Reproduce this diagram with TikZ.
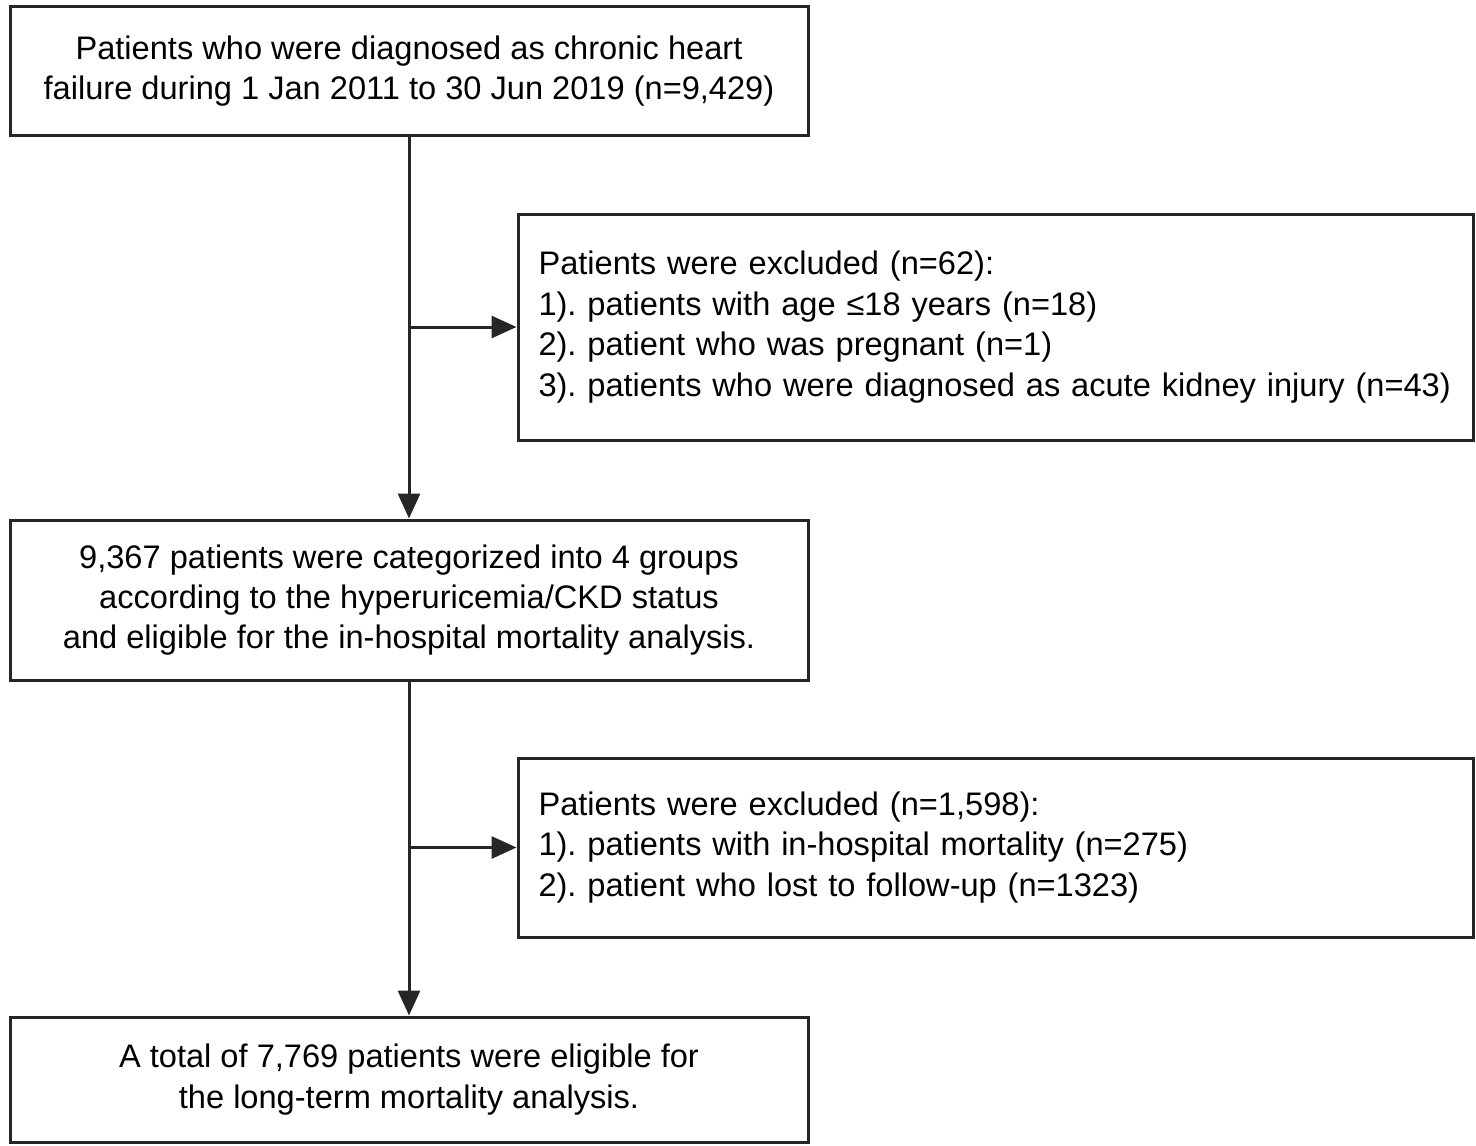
\documentclass[tikz,border=0pt]{standalone}
\usepackage{fontspec}
\setmainfont{Liberation Sans}
\usetikzlibrary{arrows.meta}
\definecolor{ink}{HTML}{262626}
\frenchspacing
\begin{document}
\begin{tikzpicture}[x=0.5pt,y=-0.5pt,
  box/.style={draw=ink,line width=1.5pt,inner sep=0pt,font=\fontsize{16.3}{20.2}\selectfont\frenchspacing,text=black},
  mainbox/.style={box,minimum width=399pt,align=center},
  exbox/.style={box,minimum width=477.5pt,text width=457pt,inner xsep=10pt,align=left},
  arr/.style={draw=ink,line width=1.5pt,-{Triangle[length=12.5pt,width=11pt]}}]
\useasboundingbox (0,0) rectangle (1476,1145);
\node[mainbox,minimum height=64pt] (b1) at (409,71) {Patients who were diagnosed as chronic heart\\failure during 1 Jan 2011 to 30 Jun 2019 (n=9,429)};
\node[exbox,minimum height=113pt] (e1) at (995.5,327) {Patients were excluded (n=62):\\1). patients with age ≤18 years (n=18)\\2). patient who was pregnant (n=1)\\3). patients who were diagnosed as acute kidney injury (n=43)};
\node[mainbox,minimum height=80pt] (b2) at (409,600) {9,367 patients were categorized into 4 groups\\according to the hyperuricemia/CKD status\\and eligible for the in-hospital mortality analysis.};
\node[exbox,minimum height=89.5pt] (e2) at (995.5,847.5) {Patients were excluded (n=1,598):\\1). patients with in-hospital mortality (n=275)\\2). patient who lost to follow-up (n=1323)};
\node[mainbox,minimum height=62.5pt] (b3) at (409,1079.5) {A total of 7,769 patients were eligible for\\the long-term mortality analysis.};
\draw[arr] (b1.south) -- (b2.north);
\draw[arr] (b2.south) -- (b3.north);
\draw[arr] (b1.south |- e1.west) -- (e1.west);
\draw[arr] (b2.south |- e2.west) -- (e2.west);
\end{tikzpicture}
\end{document}
